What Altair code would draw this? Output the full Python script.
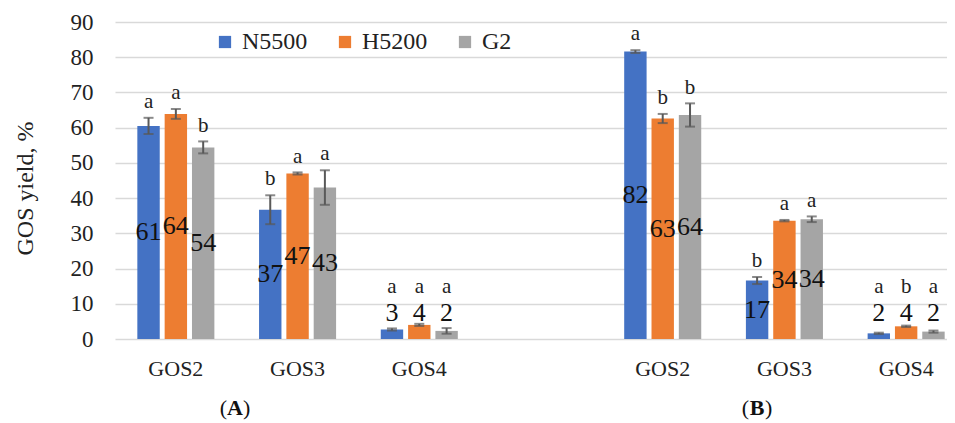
import altair as alt
import pandas as pd

panels = ["A", "B"]
fractions = ["GOS2", "GOS3", "GOS4"]
series = ["N5500", "H5200", "G2"]
colors = ["#4472C4", "#ED7D31", "#A5A5A5"]

# values[panel][series] -> per fraction
values = {
    "A": {"N5500": [60.5, 36.7, 2.7], "H5200": [63.9, 47.0, 4.0], "G2": [54.4, 43.0, 2.3]},
    "B": {"N5500": [81.6, 16.6, 1.6], "H5200": [62.6, 33.6, 3.6], "G2": [63.6, 34.0, 2.1]},
}
errors = {
    "A": {"N5500": [2.3, 4.1, 0.3], "H5200": [1.4, 0.3, 0.3], "G2": [1.7, 4.9, 0.8]},
    "B": {"N5500": [0.4, 1.0, 0.2], "H5200": [1.3, 0.2, 0.2], "G2": [3.3, 0.8, 0.3]},
}
letters = {
    "A": {"N5500": ["a", "b", "a"], "H5200": ["a", "a", "a"], "G2": ["b", "a", "a"]},
    "B": {"N5500": ["a", "b", "a"], "H5200": ["b", "a", "b"], "G2": ["b", "a", "a"]},
}

rows = []
for p in panels:
    for s in series:
        for i, f in enumerate(fractions):
            rows.append({
                "cat": f"{p}|{f}",
                "series": s,
                "value": values[p][s][i],
                "err": errors[p][s][i],
                "letter": letters[p][s][i],
            })
df = pd.DataFrame(rows)

domain = ["A|GOS2", "A|GOS3", "A|GOS4", "gap", "B|GOS2", "B|GOS3", "B|GOS4"]
FONT = "Liberation Serif"
W, H = 832, 317

x = alt.X("cat:N", scale=alt.Scale(domain=domain, range=[0, 852], paddingInner=0.367, paddingOuter=0.1835),
          axis=alt.Axis(title=None, labelExpr="datum.value == 'gap' ? '' : split(datum.value, '|')[1]",
                        labelFont=FONT, labelFontSize=22, labelPadding=19, ticks=False, domain=False,
                        grid=False, labelAngle=0))
xo = alt.XOffset("series:N", scale=alt.Scale(domain=series, paddingInner=0.18, paddingOuter=0))
yscale = alt.Scale(domain=[0, 90])
yaxis = alt.Axis(title="GOS yield, %", values=list(range(0, 91, 10)), labelOverlap=False,
                 titleFont=FONT, labelFont=FONT,
                 titleFontSize=24, titleFontWeight="normal",
                 titleX=-90, titleY=166, titleAngle=270, titleAlign="center", titleBaseline="middle",
                 labelFontSize=23, labelPadding=22, ticks=False, domain=False,
                 gridColor="#d9d9d9", gridWidth=1.5)

def Y(field):
    return alt.Y(field, scale=yscale, axis=yaxis)

base = alt.Chart(df)

bars = base.mark_bar().encode(
    x=x, xOffset=xo, y=Y("value:Q"),
    color=alt.Color("series:N", scale=alt.Scale(domain=series, range=colors),
                    legend=alt.Legend(title=None, orient="none", direction="horizontal",
                                      legendX=98, legendY=8, symbolType="square", symbolSize=150,
                                      symbolStrokeWidth=0, labelFont=FONT, labelFontSize=24,
                                      columnPadding=25, labelOffset=5)),
)

err_rule = base.transform_calculate(lo="datum.value - datum.err", hi="datum.value + datum.err").mark_rule(
    color="#595959", strokeWidth=2).encode(x=x, xOffset=xo, y=Y("lo:Q"), y2="hi:Q")
cap_hi = base.transform_calculate(hi="datum.value + datum.err").mark_tick(
    color="#595959", thickness=2, size=10).encode(x=x, xOffset=xo, y=Y("hi:Q"))
cap_lo = base.transform_calculate(lo="datum.value - datum.err").mark_tick(
    color="#595959", thickness=2, size=10).encode(x=x, xOffset=xo, y=Y("lo:Q"))

labels = base.transform_calculate(ly="max(datum.value / 2, 7.4)").mark_text(
    font=FONT, fontSize=26, color="#111", baseline="middle").encode(
    x=x, xOffset=xo, y=Y("ly:Q"), text=alt.Text("value:Q", format=".0f"))

lets = base.transform_calculate(ty="max(datum.value + datum.err + 4.5, 14.7)").mark_text(
    font=FONT, fontSize=21, color="#222", baseline="middle").encode(
    x=x, xOffset=xo, y=Y("ty:Q"), text="letter:N")

ann_df = pd.DataFrame({"k": [0]})
def panel_label(letter, cx):
    a = alt.Chart(ann_df)
    yy = H + 69
    op = a.mark_text(text="(", font=FONT, fontSize=22, color="#111", align="right", baseline="middle").encode(
        x=alt.value(cx - 8), y=alt.value(yy))
    mid = a.mark_text(text=letter, font=FONT, fontSize=22, fontWeight="bold", color="#111", align="center",
                      baseline="middle").encode(x=alt.value(cx), y=alt.value(yy))
    cl = a.mark_text(text=")", font=FONT, fontSize=22, color="#111", align="left", baseline="middle").encode(
        x=alt.value(cx + 8), y=alt.value(yy))
    return op + mid + cl

chart = alt.layer(bars, err_rule, cap_hi, cap_lo, labels, lets,
                  panel_label("A", 120), panel_label("B", 642)).properties(
    width=W, height=H,
    autosize=alt.AutoSizeParams(type="none"),
    padding={"left": 107, "top": 14, "right": 0, "bottom": 84},
    background="white",
).configure(font=FONT).configure_view(stroke=None).configure_axis(
    labelFont=FONT, titleFont=FONT, labelColor="#222", titleColor="#222"
).configure_legend(labelFont=FONT, labelColor="#222")

chart.save("out.html", embed_options={"renderer": "svg", "actions": False})
